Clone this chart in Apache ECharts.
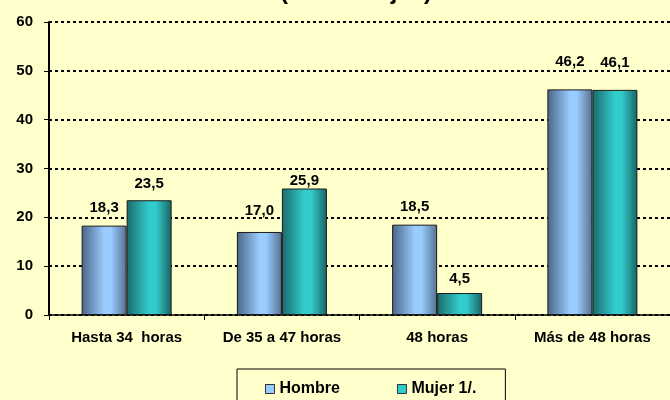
<!DOCTYPE html>
<html><head><meta charset="utf-8">
<script src="https://cdn.jsdelivr.net/npm/echarts@6/dist/echarts.min.js"></script>
<style>html,body{margin:0;padding:0;background:#FFFFCC;}#c{width:670px;height:400px;}</style>
</head><body><div id="c"></div>
<script>
const categories = ['Hasta 34  horas', 'De 35 a 47 horas', '48 horas', 'Más de 48 horas'];
const hombre = [18.3, 17.0, 18.5, 46.2];
const mujer = [23.5, 25.9, 4.5, 46.1];
const seriesNames = ['Hombre', 'Mujer 1/.'];
const titleText = '(Porcentajes)';

// label gap above each bar (style, as placed in the original)
const hombreLabelGap = [10, 14, 10, 20];
const mujerLabelGap = [9, 0, 7, 20];

const FF = '"Liberation Sans", Arial, sans-serif';
const fmt = p => p.value.toFixed(1).replace('.', ',');
function grad(dark1, light, dark2) {
  return new echarts.graphic.LinearGradient(0, 0, 1, 0, [
    {offset: 0, color: dark1}, {offset: 0.5, color: light}, {offset: 0.65, color: light}, {offset: 1, color: dark2}
  ]);
}
const lbl = {show: true, position: 'top', formatter: fmt, fontFamily: FF, fontWeight: 'bold', fontSize: 15, color: '#000'};
const chart = echarts.init(document.getElementById('c'));
chart.setOption({
  backgroundColor: '#FFFFCC',
  animation: false,
  title: {text: titleText, left: 275, top: -25, textStyle: {fontFamily: FF, fontWeight: 'bold', fontSize: 24, color: '#000'}},
  grid: {left: 49, top: 22, height: 293, width: 628},
  legend: {
    left: 237, top: 369, orient: 'horizontal',
    borderColor: '#000', borderWidth: 1, padding: [12, 29, 20, 28],
    itemWidth: 9, itemHeight: 9, itemGap: 57,
    textStyle: {fontFamily: FF, fontWeight: 'bold', fontSize: 16, color: '#000'},
    data: [
      {name: seriesNames[0], icon: 'rect', itemStyle: {color: '#99CCFF', borderColor: '#333', borderWidth: 1}},
      {name: seriesNames[1], icon: 'rect', itemStyle: {color: '#33CCCC', borderColor: '#333', borderWidth: 1}}
    ]
  },
  xAxis: {
    type: 'category', data: categories,
    axisLine: {lineStyle: {color: '#000', width: 1.5}},
    axisTick: {show: true, length: 5, lineStyle: {color: '#000'}},
    axisLabel: {fontFamily: FF, fontWeight: 'bold', fontSize: 15, color: '#000', margin: 15}
  },
  yAxis: {
    type: 'value', min: 0, max: 60, interval: 10,
    axisLine: {show: true, lineStyle: {color: '#000', width: 2}},
    axisTick: {show: true, length: 5, lineStyle: {color: '#000'}},
    axisLabel: {fontFamily: FF, fontWeight: 'bold', fontSize: 15, color: '#000', margin: 16},
    splitLine: {show: true, lineStyle: {color: '#000', width: 2, type: [3, 3]}}
  },
  series: [
    {name: seriesNames[0], type: 'bar', barWidth: 45, barGap: '0%', z: 3,
     data: hombre.map((v, i) => ({value: v, label: {distance: hombreLabelGap[i]}})),
     itemStyle: {color: grad('#4A6585', '#99CCFF', '#56708E'), borderColor: '#1a1a1a', borderWidth: 1},
     label: lbl},
    {name: seriesNames[1], type: 'bar', barWidth: 45, z: 3,
     data: mujer.map((v, i) => ({value: v, label: {distance: mujerLabelGap[i]}})),
     itemStyle: {color: grad('#1B6A6A', '#33CCCC', '#1A6363'), borderColor: '#1a1a1a', borderWidth: 1},
     label: lbl}
  ]
});
</script></body></html>
